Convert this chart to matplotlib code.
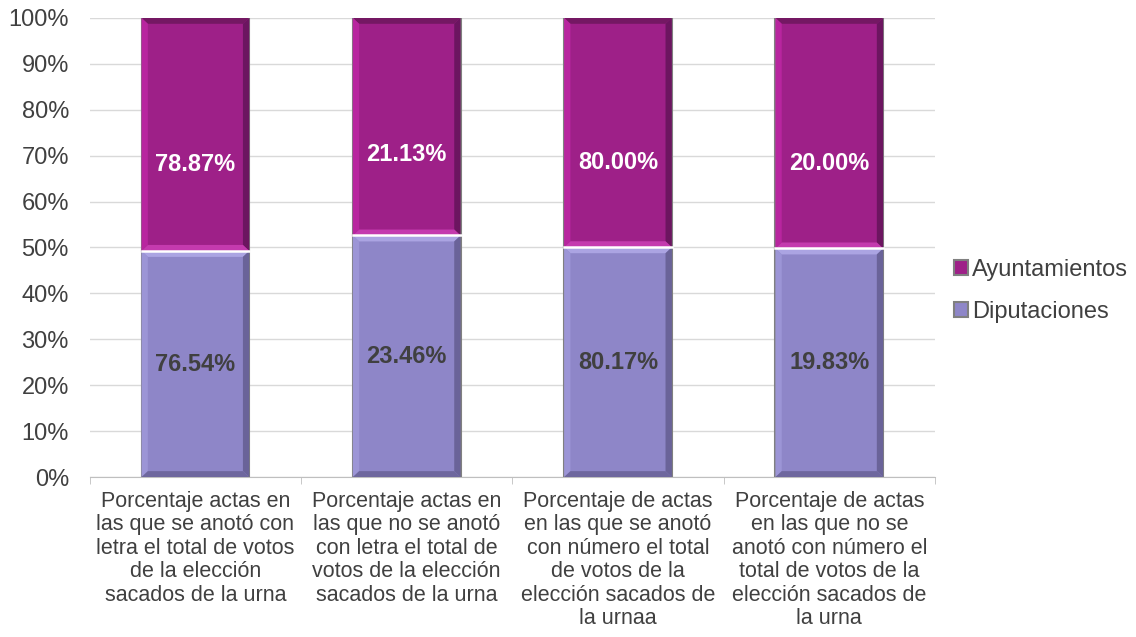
import matplotlib.pyplot as plt
import numpy as np

plt.rcParams['font.family'] = ['Liberation Sans', 'DejaVu Sans']

categories = [
    'Porcentaje actas en\nlas que se anotó con\nletra el total de votos\nde la elección\nsacados de la urna',
    'Porcentaje actas en\nlas que no se anotó\ncon letra el total de\nvotos de la elección\nsacados de la urna',
    'Porcentaje de actas\nen las que se anotó\ncon número el total\nde votos de la\nelección sacados de\nla urnaa',
    'Porcentaje de actas\nen las que no se\nanotó con número el\ntotal de votos de la\nelección sacados de\nla urna',
]
diputaciones = [76.54, 23.46, 80.17, 19.83]
ayuntamientos = [78.87, 21.13, 80.00, 20.00]

dip = np.array(diputaciones)
ayu = np.array(ayuntamientos)
tot = dip + ayu
dip_pct = dip / tot * 100
ayu_pct = ayu / tot * 100

fig = plt.figure(figsize=(11.36, 6.37), dpi=100)
ax = fig.add_axes([0.079, 0.251, 0.744, 0.721])

x = np.arange(len(categories))
w = 0.51
ax.bar(x, dip_pct, w, color='#8E86C8', edgecolor='#808080', linewidth=1.5,
       label='Diputaciones', zorder=3)
ax.bar(x, ayu_pct, w, bottom=dip_pct, color='#9E2088', edgecolor='#808080',
       linewidth=1.5, label='Ayuntamientos', zorder=3)

# bevel look: shaded strips inside each segment
bx = 0.03   # strip width in x data units (~6 px)
by = 1.3    # strip height in y data units (~6 px)


def bevel(xc, y0, y1, top, left, right, bottom):
    l, r = xc - w / 2, xc + w / 2
    ax.fill([l, r, r - bx, l + bx], [y1, y1, y1 - by, y1 - by], color=top, lw=0, zorder=4)
    ax.fill([l, l + bx, l + bx, l], [y0, y0 + by, y1 - by, y1], color=left, lw=0, zorder=4)
    ax.fill([r, r - bx, r - bx, r], [y0, y0 + by, y1 - by, y1], color=right, lw=0, zorder=4)
    ax.fill([l, r, r - bx, l + bx], [y0, y0, y0 + by, y0 + by], color=bottom, lw=0, zorder=4)


for i in x:
    bevel(i, 0, dip_pct[i], '#ABA4E2', '#9C95D6', '#6A6399', '#6E679E')
    bevel(i, dip_pct[i], 100, '#741863', '#B8259F', '#6C1560', '#C43AAE')
    # white seam between segments
    ax.plot([i - w / 2, i + w / 2], [dip_pct[i], dip_pct[i]], color='white', lw=1.8, zorder=5)

for i in x:
    ax.text(i, dip_pct[i] / 2, f'{diputaciones[i]:.2f}%', ha='center', va='center',
            fontsize=17, fontweight='bold', color='#404040', zorder=6)
    ax.text(i, dip_pct[i] + ayu_pct[i] * 0.37, f'{ayuntamientos[i]:.2f}%', ha='center',
            va='center', fontsize=17, fontweight='bold', color='white', zorder=6)

ax.set_xlim(-0.5, len(categories) - 0.5)
ax.set_ylim(0, 100)
ax.set_yticks(np.arange(0, 101, 10))
ax.set_yticklabels([f'{v}%' for v in range(0, 101, 10)])
ax.yaxis.grid(True, color='#D9D9D9', lw=1, zorder=0)
ax.set_xticks(x)
ax.set_xticklabels(categories, fontsize=15.5, color='#404040', linespacing=1.15)
ax.set_xticks(np.arange(-0.5, len(categories)), minor=True)
ax.tick_params(axis='x', which='major', length=0, pad=10)
ax.tick_params(axis='x', which='minor', length=5, color='#BFBFBF')
ax.tick_params(axis='y', length=0, labelsize=17, labelcolor='#404040', pad=15)
for s in ['top', 'right', 'left']:
    ax.spines[s].set_visible(False)
ax.spines['bottom'].set_color('#BFBFBF')

handles, labels = ax.get_legend_handles_labels()
fig.legend(handles[::-1], labels[::-1], loc='center left', bbox_to_anchor=(0.840, 0.543),
           frameon=False, fontsize=17, handlelength=0.6, handleheight=0.6,
           handletextpad=0.15, labelspacing=0.85, labelcolor='#404040',
           borderpad=0, borderaxespad=0)

fig.savefig('out.png', dpi=100)
